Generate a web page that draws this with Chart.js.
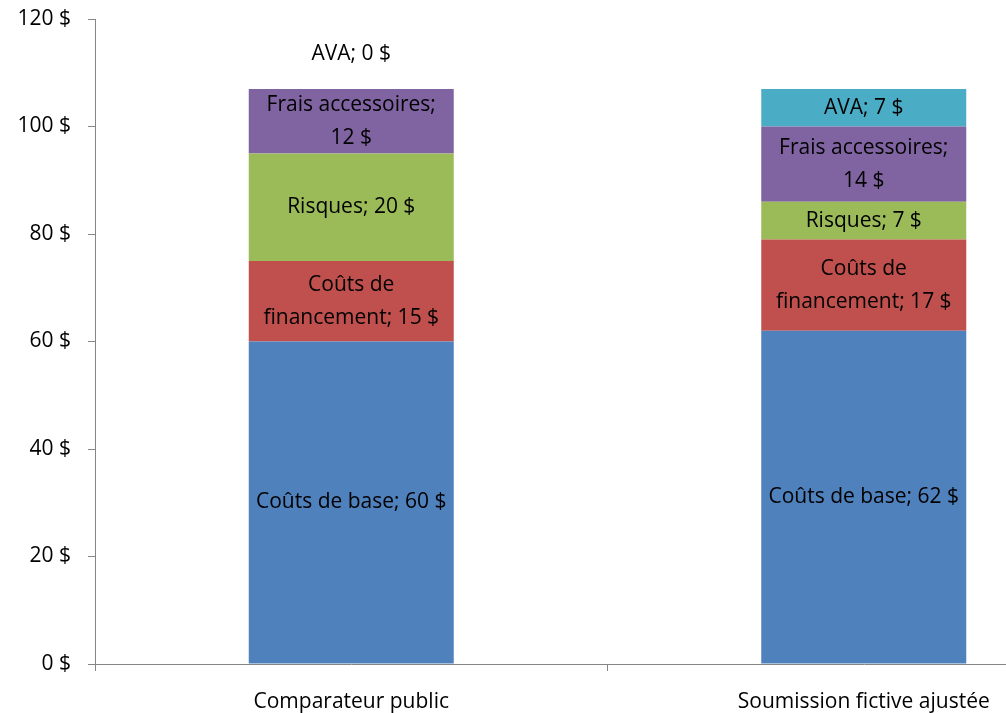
<!DOCTYPE html>
<html>
<head>
<meta charset="utf-8">
<script src="https://cdn.jsdelivr.net/npm/chart.js@4"></script>
<style>
  html, body { margin: 0; padding: 0; background: #fff; overflow: hidden; }
  #wrap { width: 1140px; height: 713px; position: relative; }
</style>
</head>
<body>
<div id="wrap"><canvas id="costChart"></canvas></div>
<script>
// categories (the right side of the chart is cut off by the window, as in the source)
const categories = ['Comparateur public', 'Soumission fictive ajustée'];

// series, stacked bottom to top
const seriesNames = ['Coûts de base', 'Coûts de financement', 'Risques', 'Frais accessoires', 'AVA'];
const baseCosts = [60, 62];
const financingCosts = [15, 17];
const risks = [20, 7];
const otherFees = [12, 14];
const ava = [0, 7];

// how each series label wraps inside its bar
const labelBreaks = [
    [['Coûts de base; 60 $'], ['Coûts de base; 62 $']],
    [['Coûts de', 'financement; 15 $'], ['Coûts de', 'financement; 17 $']],
    [['Risques; 20 $'], ['Risques; 7 $']],
    [['Frais accessoires;', '12 $'], ['Frais accessoires;', '14 $']],
    [['AVA; 0 $'], ['AVA; 7 $']]
];

const yTicks = [0, 20, 40, 60, 80, 100, 120];

const colors = ['#4F81BD', '#C0504D', '#9BBB59', '#8064A2', '#4BACC6'];
const FONT = "'Open Sans', sans-serif";
const FSIZE = 21;

// draws the value labels centred in each segment
const segmentLabels = {
    id: 'segmentLabels',
    afterDatasetsDraw(chart) {
        const ctx = chart.ctx;
        ctx.save();
        ctx.font = FSIZE + 'px ' + FONT;
        ctx.fillStyle = '#000';
        ctx.textAlign = 'center';
        ctx.textBaseline = 'middle';
        const lineH = 33;
        chart.data.datasets.forEach((ds, di) => {
            const meta = chart.getDatasetMeta(di);
            meta.data.forEach((bar, i) => {
                const lines = labelBreaks[di][i];
                let cy = (bar.y + bar.base) / 2;
                if (ds.data[i] === 0) cy = bar.y - 35;
                const startY = cy - (lines.length - 1) * lineH / 2;
                lines.forEach((t, k) => ctx.fillText(t, bar.x, startY + k * lineH));
            });
        });
        ctx.restore();
    }
};

const datasets = [baseCosts, financingCosts, risks, otherFees, ava].map((vals, i) => ({
    label: seriesNames[i],
    data: vals,
    backgroundColor: colors[i],
    borderWidth: 0,
    barPercentage: 0.4,
    categoryPercentage: 1.0
}));

new Chart(document.getElementById('costChart'), {
    type: 'bar',
    data: { labels: categories, datasets: datasets },
    options: {
        responsive: true,
        maintainAspectRatio: false,
        animation: false,
        layout: { padding: { top: 19, right: 20, left: 0, bottom: 0 } },
        plugins: {
            legend: { display: false },
            tooltip: { enabled: false }
        },
        scales: {
            x: {
                stacked: true,
                afterFit: (s) => { s.height = 49; s.paddingLeft = 0; s.paddingRight = 0; },
                grid: {
                    offset: true,
                    drawOnChartArea: false,
                    tickLength: 7,
                    tickColor: '#868686'
                },
                border: { color: '#868686', width: 1 },
                ticks: {
                    color: '#000',
                    padding: 18,
                    font: { family: FONT, size: FSIZE }
                }
            },
            y: {
                stacked: true,
                min: 0,
                max: 120,
                afterFit: (s) => { s.width = 95; s.paddingTop = 0; s.paddingBottom = 0; },
                afterBuildTicks: (s) => { s.ticks = yTicks.map(v => ({ value: v })); },
                grid: {
                    drawOnChartArea: false,
                    tickLength: 7,
                    tickColor: '#868686'
                },
                border: { color: '#868686', width: 1 },
                ticks: {
                    color: '#000',
                    padding: 17,
                    font: { family: FONT, size: FSIZE },
                    callback: (v) => v + ' $'
                }
            }
        }
    },
    plugins: [segmentLabels]
});
</script>
</body>
</html>
